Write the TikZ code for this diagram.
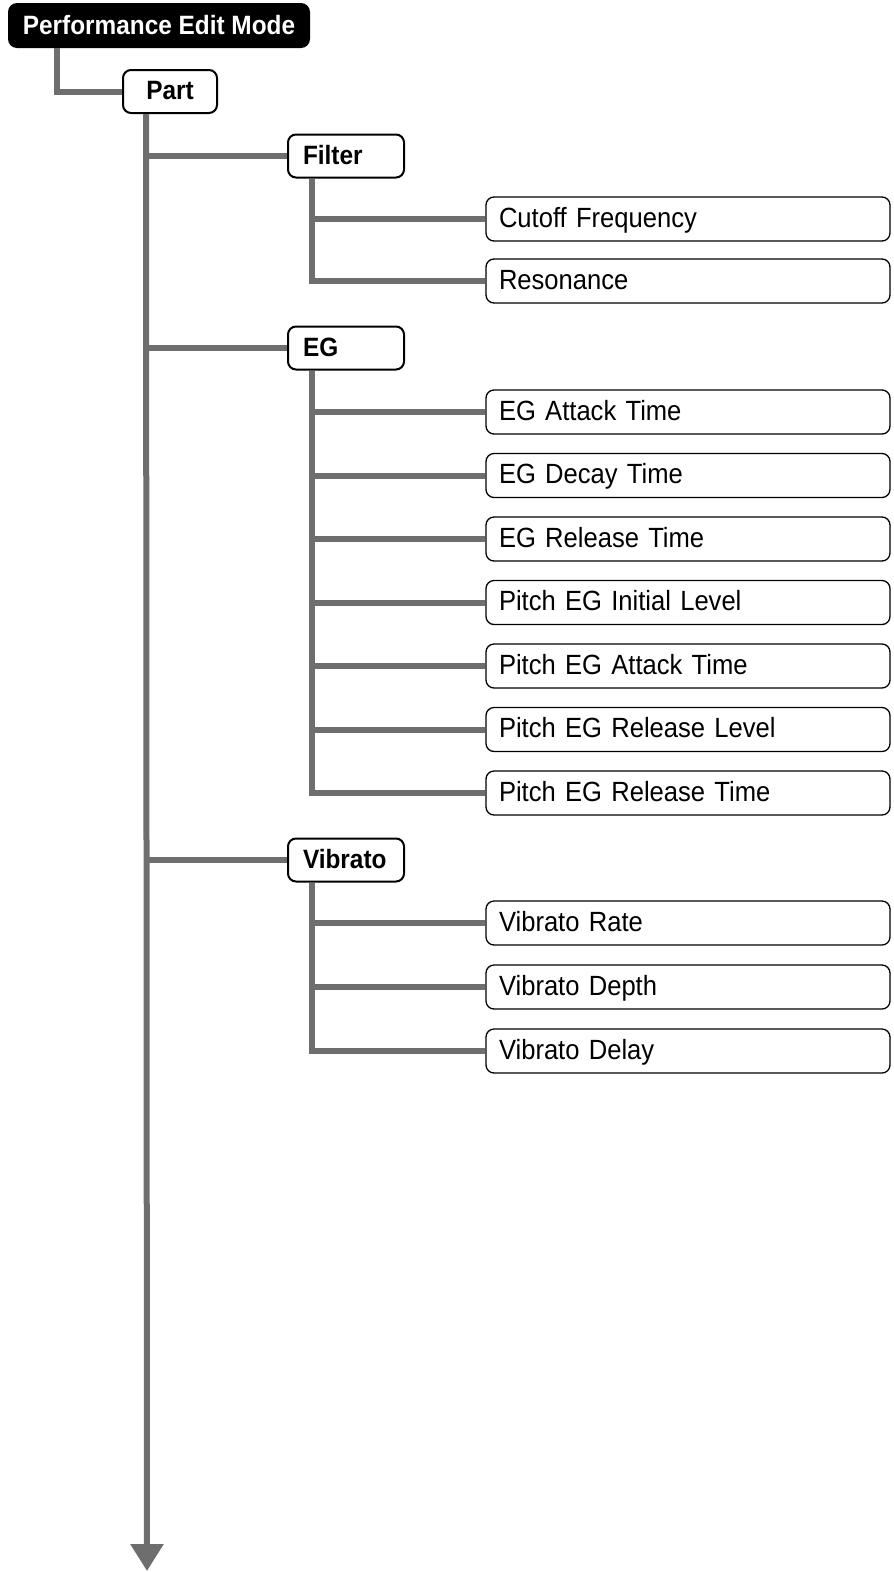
\documentclass[tikz,border=0pt]{standalone}
\usepackage{fontspec}
\setmainfont{Liberation Sans}
\newfontfamily\condfont[FakeStretch=0.92]{Liberation Sans}
\usetikzlibrary{arrows.meta}
\definecolor{linegray}{RGB}{110,110,110}
\tikzset{
  conn/.style={draw=linegray, line width=6pt},
  boxbase/.style={draw=black, rounded corners=8pt, fill=white, inner ysep=0pt,
    text height=21pt, text depth=5pt},
  pembox/.style={fill=black, text=white, rounded corners=9pt, minimum width=302pt,
    minimum height=45pt, inner xsep=0pt, inner ysep=0pt, text height=22pt, text depth=4pt,
    font=\condfont\bfseries\fontsize{26.5}{26.5}\selectfont},
  partbox/.style={boxbase, line width=2pt, minimum width=94pt, minimum height=43pt,
    inner xsep=0pt, font=\condfont\bfseries\fontsize{26.5}{26.5}\selectfont},
  hdr/.style={boxbase, line width=2pt, minimum height=43pt, text width=86pt,
    inner xsep=15pt, align=left, font=\condfont\bfseries\fontsize{26.5}{26.5}\selectfont},
  leaf/.style={boxbase, line width=1.3pt, minimum height=44pt, text width=378pt,
    inner xsep=13pt, align=left, font=\condfont\fontsize{27.8}{27.8}\selectfont},
}
\begin{document}
\begin{tikzpicture}[x=1pt,y=-1pt]
\useasboundingbox (0,0) rectangle (894,1572);

% nodes
\node[pembox] (pem) at (159,25.5) {Performance Edit Mode};
\node[partbox] (part) at (170,91.5) {Part};

\node[hdr] (filter) at (346,156) {Filter};
\node[hdr] (eg) at (346,348) {EG};
\node[hdr] (vib) at (346,860) {Vibrato};

\node[leaf] (cut) at (688,219) {Cutoff Frequency};
\node[leaf] (res) at (688,281) {Resonance};

\node[leaf] (ega) at (688,412) {EG Attack Time};
\node[leaf] (egd) at (688,475.5) {EG Decay Time};
\node[leaf] (egr) at (688,539) {EG Release Time};
\node[leaf] (pil) at (688,602.5) {Pitch EG Initial Level};
\node[leaf] (pat) at (688,666) {Pitch EG Attack Time};
\node[leaf] (prl) at (688,729.5) {Pitch EG Release Level};
\node[leaf] (prt) at (688,793) {Pitch EG Release Time};

\node[leaf] (vr) at (688,923) {Vibrato Rate};
\node[leaf] (vdp) at (688,987) {Vibrato Depth};
\node[leaf] (vdl) at (688,1051) {Vibrato Delay};

% connectors
\draw[conn] ([xshift=49pt]pem.south west) |- (part.west);

\coordinate (trunktop) at ([xshift=24pt]part.south west);
\coordinate (trunkend) at (147,1571);
\draw[conn, -{Triangle[width=32pt,length=27pt]}] (trunktop) -- (trunkend);
\draw[conn] (trunktop |- filter.west) -- (filter.west);
\draw[conn] (trunktop |- eg.west) -- (eg.west);
\draw[conn] (trunktop |- vib.west) -- (vib.west);

\coordinate (ft) at ([xshift=25pt]filter.south west);
\draw[conn] (ft) |- (res.west);
\draw[conn] (ft |- cut.west) -- (cut.west);

\coordinate (et) at ([xshift=25pt]eg.south west);
\draw[conn] (et) |- (prt.west);
\foreach \n in {ega,egd,egr,pil,pat,prl}
  \draw[conn] (et |- \n.west) -- (\n.west);

\coordinate (vt) at ([xshift=25pt]vib.south west);
\draw[conn] (vt) |- (vdl.west);
\foreach \n in {vr,vdp}
  \draw[conn] (vt |- \n.west) -- (\n.west);
\end{tikzpicture}
\end{document}
